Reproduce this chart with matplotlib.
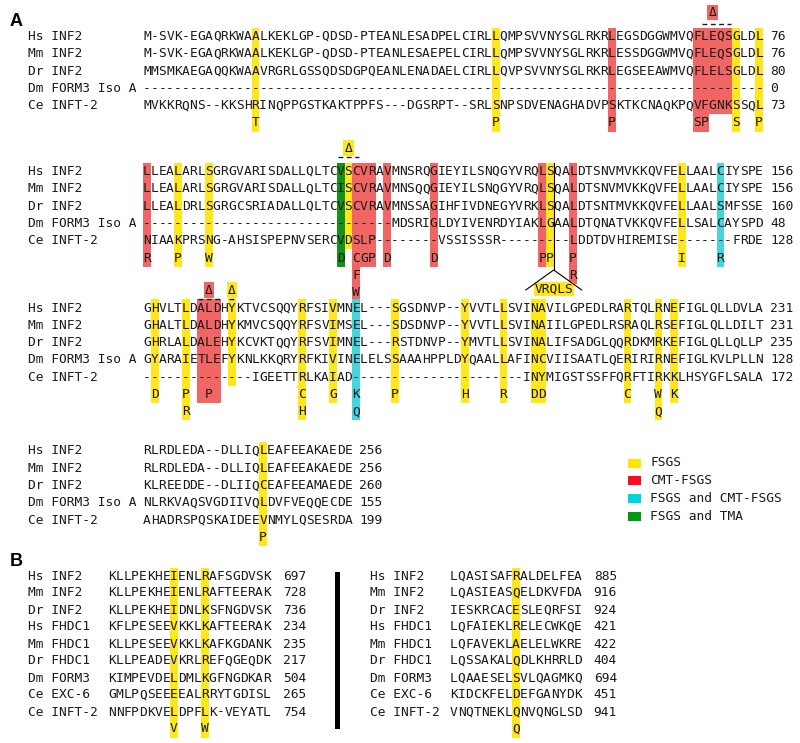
import matplotlib
matplotlib.use("Agg")
import matplotlib.pyplot as plt
from matplotlib.patches import Rectangle

# ---- data -------------------------------------------------------------
names_a = ["Hs INF2", "Mm INF2", "Dr INF2", "Dm FORM3 Iso A", "Ce INFT-2"]

seq_a1 = ["M-SVK-EGAQRKWAALKEKLGP-QDSD-PTEANLESADPELCIRLLQMPSVVNYSGLRKRLEGSDGGWMVQFLEQSGLDL",
          "M-SVK-EGAQRKWAALKEKLGP-QDSD-PTEANLESAEPELCIRLLQMPSVVNYSGLRKRLESSDGGWMVQFLEQSGLDL",
          "MMSMKAEGAQQKWAAVRGRLGSSQDSDGPQEANLENADAELCIRLLQVPSVVNYSGLRKRLEGSEEAWMVQFLELSGLDL",
          "-" * 80,
          "MVKKRQNS--KKSHRINQPPGSTKAKTPPFS---DGSRPT--SRLSNPSDVENAGHADVPSKTKCNAQKPQVFGNKSSQL"]
end_a1 = [76, 76, 80, 0, 73]
mut_a1 = [{14: "T", 45: "P", 60: "P", 71: "SP", 76: "S", 79: "P"}]
hl_a1 = [("FSGS", 14, 14, 0, 5), ("FSGS", 45, 45, 0, 5), ("CMT-FSGS", 60, 60, 0, 5),
         ("CMT-FSGS", 71, 75, 0, 4), ("CMT-FSGS", 71, 72, 5, 5),
         ("FSGS", 76, 76, 0, 5), ("FSGS", 79, 79, 0, 5)]
delta_a1 = [("CMT-FSGS", 73, 72, 75)]

seq_a2 = ["LLEALARLSGRGVARISDALLQLTCVSCVRAVMNSRQGIEYILSNQGYVRQLSQALDTSNVMVKKQVFELLAALCIYSPE",
          "LLEALARLSGRGVARISDALLQLTCISCVRAVMNSQQGIEYILSNQGYVRQLSQALDTSNVMVKKQVFELLAALCIYSPE",
          "LLEALDRLSGRGCSRIADALLQLTCVSCVRAVMNSSAGIHFIVDNEGYVRKLSQALDTSNTMVKKQVFELLAALSMFSSE",
          "--------------------------------MDSRIGLDYIVENRDYIAKLGAALDTQNATVKKQVFELLSALCAYSPD",
          "NIAAKPRSNG-AHSISPEPNVSERCVDSLP--------VSSISSSR---------LDDTDVHIREMISE-------FRDE"]
end_a2 = [156, 156, 160, 48, 128]
mut_a2 = [{0: "R", 4: "P", 8: "W", 25: "D", 27: "CGP", 31: "D", 37: "D", 51: "PP",
           55: "P", 69: "I", 74: "R"},
          {27: "F", 55: "R"},
          {27: "W"}]
hl_a2 = [("CMT-FSGS", 0, 0, 0, 5), ("FSGS", 4, 4, 0, 5), ("FSGS", 8, 8, 0, 5),
         ("FSGS and TMA", 25, 25, 0, 5), ("FSGS", 26, 26, 0, 4),
         ("CMT-FSGS", 27, 27, 0, 7), ("CMT-FSGS", 28, 29, 0, 5),
         ("CMT-FSGS", 31, 31, 0, 5), ("CMT-FSGS", 37, 37, 0, 5),
         ("CMT-FSGS", 51, 51, 0, 5), ("FSGS", 52, 52, 0, 5),
         ("CMT-FSGS", 55, 55, 0, 6), ("FSGS", 69, 69, 0, 5),
         ("FSGS and CMT-FSGS", 74, 74, 0, 5)]
delta_a2 = [("FSGS", 26, 25, 27)]
insertion = "VRQLS"
insertion_after = 53

seq_a3 = ["GHVLTLDALDHYKTVCSQQYRFSIVMNEL---SGSDNVP--YVVTLLSVINAVILGPEDLRARTQLRNEFIGLQLLDVLA",
          "GHALTLDALDHYKMVCSQQYRFSVIMSEL---SDSDNVP--YVVTLLSVINAIILGPEDLRSRAQLRSEFIGLQLLDILT",
          "GHRLALDALEHYKCVKTQQYRFSVIMNEL---RSTDNVP--YMVTLLSVINALIFSADGLQQRDKMRKEFIGLQLLQLLP",
          "GYARAIETLEFYKNLKKQRYRFKIVINELELSSAAAHPPLDYQAALLAFINCVIISAATLQERIRIRNEFIGLKVLPLLN",
          "--------------IGEETTRLKAIAD----------------------INYMIGSTSSFFQRFTIRKKLHSYGFLSALA"]
end_a3 = [231, 231, 235, 128, 172]
mut_a3 = [{1: "D", 5: "P", 8: "P", 20: "C", 24: "G", 27: "K", 32: "P", 41: "H", 46: "R",
           50: "DD", 62: "C", 66: "W", 68: "K"},
          {5: "R", 20: "H", 27: "Q", 66: "Q"}]
hl_a3 = [("FSGS", 1, 1, 0, 5), ("FSGS", 5, 5, 0, 6), ("CMT-FSGS", 7, 9, 0, 5),
         ("FSGS", 11, 11, 0, 4), ("FSGS", 20, 20, 0, 6), ("FSGS", 24, 24, 0, 5),
         ("FSGS and CMT-FSGS", 27, 27, 0, 6), ("FSGS", 32, 32, 0, 5),
         ("FSGS", 41, 41, 0, 5), ("FSGS", 46, 46, 0, 5), ("FSGS", 50, 51, 0, 5),
         ("FSGS", 62, 62, 0, 5), ("FSGS", 66, 66, 0, 6), ("FSGS", 68, 68, 0, 5)]
delta_a3 = [("CMT-FSGS", 8, 7, 9), ("FSGS", 11, 11, 11)]

seq_a4 = ["RLRDLEDA--DLLIQLEAFEEAKAEDE",
          "RLRDLEDA--DLLIQLEAFEEAKAEDE",
          "KLREEDDE--DLIIQCEAFEEAMAEDE",
          "NLRKVAQSVGDIIVQLDVFVEQQECDE",
          "AHADRSPQSKAIDEEVNMYLQSESRDA"]
end_a4 = [256, 256, 260, 155, 199]
mut_a4 = [{15: "P"}]
hl_a4 = [("FSGS", 15, 15, 0, 5)]

names_b = ["Hs INF2", "Mm INF2", "Dr INF2", "Hs FHDC1", "Mm FHDC1", "Dr FHDC1",
           "Dm FORM3", "Ce EXC-6", "Ce INFT-2"]
seq_b1 = ["KLLPEKHEIENLRAFSGDVSK", "KLLPEKHEIENLRAFTEERAK", "KLLPEKHEIDNLKSFNGDVSK",
          "KFLPESEEVKKLKAFTEERAK", "KLLPESEEVKKLKAFKGDANK", "KLLPEADEVKRLREFQGEQDK",
          "KIMPEVDELDMLKGFNGDKAR", "GMLPQSEEEEALRRYTGDISL", "NNFPDKVELDPFLK-VEYATL"]
end_b1 = [697, 728, 736, 234, 235, 217, 504, 265, 754]
mut_b1 = [{8: "V", 12: "W"}]
hl_b1 = [("FSGS", 8, 8, 0, 9), ("FSGS", 12, 12, 0, 9)]
seq_b2 = ["LQASISAFRALDELFEA", "LQASIEASQELDKVFDA", "IESKRCACESLEQRFSI",
          "LQFAIEKLRELECWKQE", "LQFAVEKLAELELWKRE", "LQSSAKALQDLKHRRLD",
          "LQAAESELSVLQAGMKQ", "KIDCKFELDEFGANYDK", "VNQTNEKLQNVQNGLSD"]
end_b2 = [885, 916, 924, 421, 422, 404, 694, 451, 941]
mut_b2 = [{8: "Q"}]
hl_b2 = [("FSGS", 8, 8, 0, 9)]

legend_labels = ["FSGS", "CMT-FSGS", "FSGS and CMT-FSGS", "FSGS and TMA"]

# ---- styling ------------------------------------------------------------
hl_colors = {"FSGS": "#ffe71c", "CMT-FSGS": "#f26565",
             "FSGS and CMT-FSGS": "#45d5dc", "FSGS and TMA": "#129216"}
legend_colors = {"FSGS": "#ffe600", "CMT-FSGS": "#ff0a1e",
                 "FSGS and CMT-FSGS": "#00d5dd", "FSGS and TMA": "#009a12"}
MONO = "DejaVu Sans Mono"
FS = 9.3
TXT = "#1a1a1a"
CW = 7.75   # column pitch in px
RH = 17.3   # row pitch in px

fig = plt.figure(figsize=(8, 7.43), dpi=100)
ax = fig.add_axes([0, 0, 1, 1])
ax.set_xlim(0, 800)
ax.set_ylim(743, 0)
ax.axis("off")


def draw_block(names, seqs, ends, muts, hls, x_name, x0, y0, rh=RH, num_gap=7,
               deltas=None, d_off=(24, 13)):
    ncol = len(seqs[0])
    ry = lambda r: y0 + r * rh
    for cat, c0, c1, r0, r1 in hls:
        ax.add_patch(Rectangle((x0 + c0 * CW, ry(r0) - rh / 2), (c1 - c0 + 1) * CW,
                               ry(r1) - ry(r0) + rh, fc=hl_colors[cat], ec="none", zorder=1))
    for i, (nm, s, e) in enumerate(zip(names, seqs, ends)):
        ax.text(x_name, ry(i), nm, family=MONO, fontsize=FS, color=TXT, ha="left", va="center")
        for j, ch in enumerate(s):
            ax.text(x0 + (j + 0.5) * CW, ry(i), ch, family=MONO, fontsize=FS, color=TXT,
                    ha="center", va="center", zorder=3)
        ax.text(x0 + ncol * CW + num_gap, ry(i), str(e), family=MONO, fontsize=FS,
                color=TXT, ha="left", va="center")
    for k, row in enumerate(muts):
        for c, letters in row.items():
            for m, ch in enumerate(letters):
                ax.text(x0 + (c + m + 0.5) * CW, ry(len(seqs) + k), ch, family=MONO,
                        fontsize=FS, color=TXT, ha="center", va="center", zorder=3)
    if deltas:
        for cat, c, d0, d1 in deltas:
            ax.plot([x0 + d0 * CW + 1, x0 + (d1 + 1) * CW - 1], [y0 - d_off[1]] * 2,
                    color=TXT, lw=1.0, linestyle=(0, (3.5, 2.5)))
            ax.text(x0 + (c + 0.5) * CW, y0 - d_off[0], "\u0394", family=MONO, fontsize=FS,
                    color=TXT, ha="center", va="center",
                    bbox=dict(boxstyle="square,pad=0.1", fc=hl_colors[cat], ec="none"))
    return ry


X0 = 143
draw_block(names_a, seq_a1, end_a1, mut_a1, hl_a1, 28, X0, 36.5,
           deltas=delta_a1, d_off=(24, 13))
ry2 = draw_block(names_a, seq_a2, end_a2, mut_a2, hl_a2, 28, X0, 171.5,
                 deltas=delta_a2, d_off=(23.5, 14.5))
ry3 = draw_block(names_a, seq_a3, end_a3, mut_a3, hl_a3, 28, X0, 308,
                 deltas=delta_a3, d_off=(18, 9.5))
draw_block(names_a, seq_a4, end_a4, mut_a4, hl_a4, 28, X0, 451)

# insertion marker
xi = X0 + insertion_after * CW
ax.plot([xi, xi], [ry2(0) - RH / 2, 270], color="black", lw=0.8, zorder=4)
ax.plot([xi - 28, xi, xi + 28], [290, 270, 290], color="black", lw=0.8, zorder=4)
ax.text(xi, 289, insertion, family=MONO, fontsize=FS, color=TXT, ha="center", va="center",
        zorder=3, bbox=dict(boxstyle="square,pad=0.05", fc=hl_colors["FSGS"], ec="none"))

# legend
for k, lab in enumerate(legend_labels):
    y = 463 + k * 17.7
    ax.add_patch(Rectangle((628, y - 4.5), 13, 9, fc=legend_colors[lab], ec="none"))
    ax.text(650, y, lab, family=MONO, fontsize=FS, color=TXT, ha="left", va="center")

# panel B
draw_block(names_b, seq_b1, end_b1, mut_b1, hl_b1, 28, 108, 576, rh=17, num_gap=12)
draw_block(names_b, seq_b2, end_b2, mut_b2, hl_b2, 370, 450, 576, rh=17, num_gap=12)
ax.add_patch(Rectangle((335, 572), 5, 157, fc="black", ec="none"))

ax.text(10, 22, "A", family="Liberation Sans", fontweight="bold", fontsize=13,
        ha="left", va="center")
ax.text(10, 562, "B", family="Liberation Sans", fontweight="bold", fontsize=13,
        ha="left", va="center")

fig.savefig("out.png", dpi=100, facecolor="white")
